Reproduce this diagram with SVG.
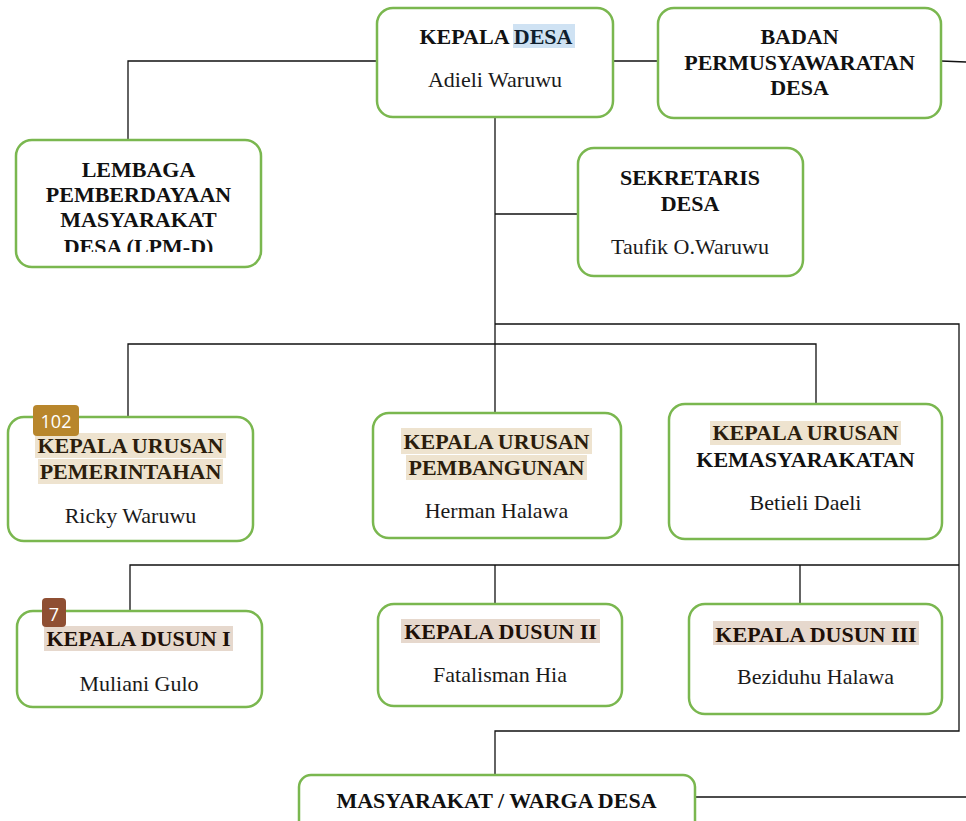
<svg xmlns="http://www.w3.org/2000/svg" width="966" height="821" viewBox="0 0 966 821">
<style>
.box{fill:#fff;stroke:#7ab74f;stroke-width:2.5}
.ln{fill:none;stroke:#111;stroke-width:1.3}
.h{font-family:"Liberation Serif","Times New Roman",serif;font-weight:bold;font-size:22px;fill:#111;text-anchor:middle}
.hb{fill:#2b1d0c}
.hd{fill:#1e1008}
.n{font-family:"Liberation Serif","Times New Roman",serif;font-size:22px;fill:#1a1a1a;text-anchor:middle}
.hlU{fill:#eee3cf}
.hlD{fill:#e6d8cd}
.badge{font-family:"Open Sans","Noto Sans",sans-serif;font-size:18px;fill:#fff;text-anchor:middle}
</style>
<defs>
<clipPath id="lpmclip"><rect x="0" y="0" width="966" height="252"/></clipPath>
</defs>
<rect width="966" height="821" fill="#fff"/>
<g id="connectors">
<path class="ln" d="M377 61 H128 V140"/>
<path class="ln" d="M613 61 H658"/>
<path class="ln" d="M941 61 L966 62"/>
<path class="ln" d="M495 117 V413"/>
<path class="ln" d="M495 214 H578"/>
<path class="ln" d="M495 324 H959 V731 H495 V775"/>
<path class="ln" d="M128 417 V344 H816 V404"/>
<path class="ln" d="M130 611 V565 H959"/>
<path class="ln" d="M495 565 V604"/>
<path class="ln" d="M800 565 V604"/>
<path class="ln" d="M695 797 H966"/>
</g>
<g id="kepala-desa">
<rect class="box" x="377" y="8" width="236" height="109" rx="16"/>
<rect x="513" y="24" width="62" height="24" fill="#cfe2f3"/>
<text class="h" x="496" y="44">KEPALA <tspan fill="#0f1e2e">DESA</tspan></text>
<text class="n" x="495" y="87">Adieli Waruwu</text>
</g>
<g id="bpd">
<rect class="box" x="658" y="8" width="283" height="110" rx="16"/>
<text class="h" x="799.5" y="44">BADAN</text>
<text class="h" x="799.5" y="70">PERMUSYAWARATAN</text>
<text class="h" x="799.5" y="95">DESA</text>
</g>
<g id="lpm-d">
<rect class="box" x="16" y="140" width="245" height="127" rx="16"/>
<text class="h" x="138.5" y="177">LEMBAGA</text>
<text class="h" x="138.5" y="202">PEMBERDAYAAN</text>
<text class="h" x="138.5" y="227">MASYARAKAT</text>
<text class="h" x="138.5" y="254" clip-path="url(#lpmclip)">DESA (LPM-D)</text>
</g>
<g id="sekretaris">
<rect class="box" x="578" y="148" width="225" height="128" rx="16"/>
<text class="h" x="690" y="185">SEKRETARIS</text>
<text class="h" x="690" y="211">DESA</text>
<text class="n" x="690" y="254">Taufik O.Waruwu</text>
</g>
<g id="kaur-pemerintahan">
<rect class="box" x="8" y="417" width="245" height="124" rx="16"/>
<rect class="hlU" x="35" y="433" width="191" height="25"/>
<rect class="hlU" x="38" y="459" width="185" height="25"/>
<text class="h hb" x="130.5" y="453">KEPALA URUSAN</text>
<text class="h hb" x="130.5" y="479">PEMERINTAHAN</text>
<text class="n" x="130.5" y="523">Ricky Waruwu</text>
<rect x="33" y="405" width="46" height="31" rx="4" fill="#b8862c"/>
<text class="badge" x="56" y="428">102</text>
</g>
<g id="kaur-pembangunan">
<rect class="box" x="373" y="413" width="248" height="125" rx="16"/>
<rect class="hlU" x="401" y="428" width="191" height="26"/>
<rect class="hlU" x="406" y="455" width="181" height="25"/>
<text class="h hb" x="496.5" y="449">KEPALA URUSAN</text>
<text class="h hb" x="496.5" y="475">PEMBANGUNAN</text>
<text class="n" x="496.5" y="518">Herman Halawa</text>
</g>
<g id="kaur-kemasyarakatan">
<rect class="box" x="669" y="404" width="273" height="135" rx="16"/>
<rect class="hlU" x="710" y="421" width="191" height="24"/>
<text class="h hb" x="805.5" y="440">KEPALA URUSAN</text>
<text class="h" x="805.5" y="467">KEMASYARAKATAN</text>
<text class="n" x="805.5" y="510">Betieli Daeli</text>
</g>
<g id="kadus-1">
<rect class="box" x="17" y="611" width="245" height="96" rx="16"/>
<rect class="hlD" x="44" y="626" width="189" height="25"/>
<text class="h hd" x="138.5" y="646">KEPALA DUSUN I</text>
<text class="n" x="139" y="691">Muliani Gulo</text>
<rect x="42" y="598" width="24" height="29" rx="4" fill="#8f4f33"/>
<text class="badge" x="54" y="621">7</text>
</g>
<g id="kadus-2">
<rect class="box" x="378" y="604" width="244" height="102" rx="16"/>
<rect class="hlD" x="401" y="619" width="199" height="24"/>
<text class="h hd" x="500.5" y="639">KEPALA DUSUN II</text>
<text class="n" x="500" y="682">Fatalisman Hia</text>
</g>
<g id="kadus-3">
<rect class="box" x="689" y="604" width="253" height="110" rx="16"/>
<rect class="hlD" x="713" y="621" width="206" height="24"/>
<text class="h hd" x="816" y="642">KEPALA DUSUN III</text>
<text class="n" x="815.5" y="684">Beziduhu Halawa</text>
</g>
<g id="masyarakat">
<rect class="box" x="299" y="775" width="396" height="70" rx="12"/>
<text class="h" x="496.5" y="808">MASYARAKAT / WARGA DESA</text>
</g>
</svg>
